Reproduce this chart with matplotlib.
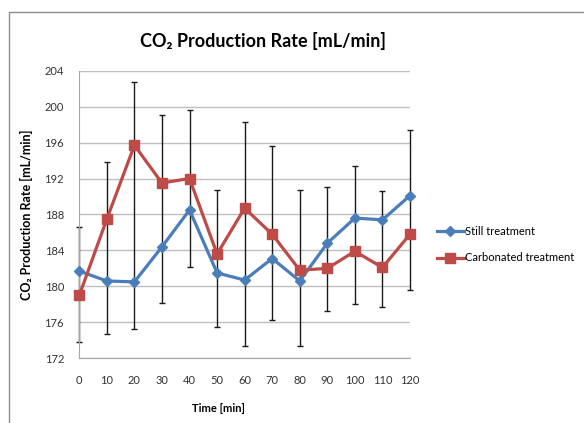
import numpy as np
import matplotlib
matplotlib.use('Agg')
import matplotlib.pyplot as plt
from matplotlib.patches import Rectangle

plt.rcParams['font.family'] = ['Lato', 'DejaVu Sans']

# data
time_min = [0, 10, 20, 30, 40, 50, 60, 70, 80, 90, 100, 110, 120]
still = [181.7, 180.6, 180.5, 184.4, 188.5, 181.5, 180.7, 183.1, 180.6, 184.8, 187.6, 187.4, 190.1]
carbonated = [179.0, 187.5, 195.7, 191.5, 192.0, 183.6, 188.7, 185.8, 181.8, 182.0, 183.9, 182.1, 185.8]
err_low = [173.8, 174.7, 175.3, 178.2, 182.2, 175.5, 173.4, 176.3, 173.4, 177.3, 178.0, 177.7, 179.6]
err_high = [186.6, 193.8, 202.7, 199.1, 199.6, 190.7, 198.3, 195.6, 190.7, 191.1, 193.4, 190.6, 197.4]
yticks = [172, 176, 180, 184, 188, 192, 196, 200, 204]

fig = plt.figure(figsize=(5.84, 4.23), dpi=100)
ax = fig.add_axes([0.1358, 0.153, 0.5662, 0.680])

# chart border (cropped on right and bottom)
fig.patches.append(Rectangle((8.5 / 584, -0.1), 1.2, 1 - 12.5 / 423 + 0.1,
                             transform=fig.transFigure, fill=False,
                             edgecolor='#8c8c8c', linewidth=1.0))

# error bars (independent of the two series)
mid = (np.array(err_low) + np.array(err_high)) / 2
yerr = [mid - np.array(err_low), np.array(err_high) - mid]
eb = ax.errorbar(time_min, mid, yerr=yerr, fmt='none', ecolor='#1a1a1a',
                 elinewidth=1.0, capsize=2.5, capthick=1.0, zorder=2)
for art in eb.lines[1] + eb.lines[2]:
    art.set_clip_on(False)

ax.plot(time_min, still, color='#4A7EBB', linewidth=2.3, marker='D',
        markersize=5.5, label='Still treatment', zorder=3, clip_on=False)
ax.plot(time_min, carbonated, color='#BE4B48', linewidth=2.3, marker='s',
        markersize=7, label='Carbonated treatment', zorder=3, clip_on=False)

ax.set_xlim(0, 120)
ax.set_ylim(172, 204)
ax.set_xticks(time_min)
ax.set_yticks(yticks)
ax.yaxis.grid(True, color='#bfbfbf', linewidth=1.0)
ax.set_axisbelow(True)
ax.tick_params(length=0, labelsize=8, colors='#333333')
ax.tick_params(axis='y', pad=11)
ax.tick_params(axis='x', pad=12)
for s in ['top', 'right']:
    ax.spines[s].set_visible(False)
for s in ['left', 'bottom']:
    ax.spines[s].set_color('#a6a6a6')

ax.set_xlabel('Time [min]', fontsize=8, fontweight='bold')
ax.xaxis.set_label_coords((218 - 79) / 331, -(403 - 358) / 287.6)
ax.set_ylabel('CO₂ Production Rate [mL/min]', fontsize=9, fontweight='bold')
ax.yaxis.set_label_coords(-(79 - 33) / 331, 0.5)
fig.text(263 / 584, 1 - 41 / 423, 'CO₂ Production Rate [mL/min]', fontsize=13,
         fontweight='bold', ha='center', va='center')

ax.legend(loc='center left', bbox_to_anchor=(1.05, 0.395), frameon=False,
          fontsize=8, handlelength=2.5, handletextpad=0.1, labelspacing=1.4)

fig.savefig('out.png', dpi=100)
